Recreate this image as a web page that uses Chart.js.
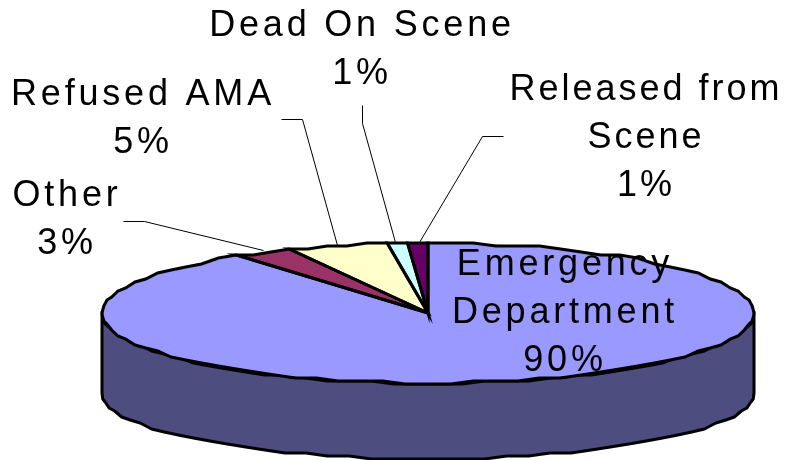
<!DOCTYPE html>
<html>
<head>
<meta charset="utf-8">
<style>html,body{margin:0;padding:0;background:#fff}#wrap{width:785px;height:460px}</style>
<script src="https://cdn.jsdelivr.net/npm/chart.js@4/dist/chart.umd.min.js"></script>
</head>
<body>
<div id="wrap"><canvas id="c" width="785" height="460"></canvas></div>
<script>
const categories = ["Emergency Department", "Other", "Refused AMA", "Dead On Scene", "Released from Scene"];
const values = [90, 3, 5, 1, 1];
const colors = ["#9999FF", "#993366", "#FFFFCC", "#CCFFFF", "#660066"];
const sideColors = ["#4D4D80", "#4D1A33", "#808066", "#668080", "#330033"];
const labelLines = [["Emergency", "Department"], ["Other"], ["Refused AMA"], ["Dead On Scene"], ["Released from", "Scene"]];

// layout (pixels), kept apart from the data
const RX = 326, RY = 70, WALL = 80, BASE_RY = 66;
const labelPos = [
  {x: 565, y: 275, sp: 3.8}, {x: 67, y: 206, sp: 3.8}, {x: 143, y: 105, sp: 3.8}, {x: 362, y: 36, sp: 3.8}, {x: 646, y: 100, sp: 3}
];
const LINE_GAP = 48;
const leaders = [
  null,
  [[123, 221], [144, 221], [263, 250]],
  [[281, 119], [302, 119], [337, 245]],
  [[362, 105], [362, 123], [395, 242]],
  [[503, 136], [482, 136], [419, 242]]
];

// rim traced as a coarse polyline, like the low-resolution outline of the original
function rim(ctx, cx, cy, ry, from, to) {
  const n = Math.max(1, Math.round(Math.abs(to - from) / (Math.PI / 45)));
  for (let k = 0; k <= n; k++) {
    const t = from + (to - from) * k / n;
    ctx.lineTo(cx + RX * Math.cos(t), Math.round((cy + ry * Math.sin(t)) / 3) * 3);
  }
}

const pie3d = {
  id: "pie3d",
  beforeDatasetsDraw(chart) {
    const ctx = chart.ctx, arcs = chart.getDatasetMeta(0).data;
    const cx = arcs[0].x, cy = arcs[0].y;
    // side wall: front-facing part of each slice
    ctx.save();
    ctx.lineWidth = 3; ctx.strokeStyle = "#000"; ctx.lineJoin = "round";
    arcs.forEach((a, i) => {
      const s = Math.max(a.startAngle, 0), e = Math.min(a.endAngle, Math.PI);
      if (e <= s) return;
      ctx.beginPath();
      rim(ctx, cx, cy, RY, s, e);
      rim(ctx, cx, cy + WALL, BASE_RY, e, s);
      ctx.closePath();
      ctx.fillStyle = sideColors[i];
      ctx.fill(); ctx.stroke();
    });
    ctx.restore();
    // squash the library's own circular arcs into the tilted ellipse
    ctx.save();
    const r = arcs[0].outerRadius;
    ctx.translate(cx, cy);
    ctx.scale(RX / r, RY / r);
    ctx.translate(-cx, -cy);
  },
  afterDatasetsDraw(chart) {
    const ctx = chart.ctx, arcs = chart.getDatasetMeta(0).data;
    ctx.restore();
    const cx = arcs[0].x, cy = arcs[0].y;
    ctx.save();
    ctx.lineWidth = 3; ctx.strokeStyle = "#000"; ctx.lineJoin = "miter";
    arcs.forEach(a => {
      ctx.beginPath();
      ctx.moveTo(cx, cy);
      rim(ctx, cx, cy, RY, a.startAngle, a.endAngle);
      ctx.closePath();
      ctx.stroke();
    });
    // leader lines
    ctx.save();
    ctx.translate(0.5, 0.5);
    ctx.lineWidth = 1; ctx.strokeStyle = "#000"; ctx.lineJoin = "round";
    leaders.forEach(l => {
      if (!l) return;
      ctx.beginPath();
      l.forEach((p, k) => k ? ctx.lineTo(p[0], p[1]) : ctx.moveTo(p[0], p[1]));
      ctx.stroke();
    });
    ctx.restore();
    // data labels
    ctx.fillStyle = "#000";
    ctx.font = '36px "Liberation Sans"';
    ctx.textAlign = "center";
    ctx.textBaseline = "alphabetic";
    const total = values.reduce((p, v) => p + v, 0);
    labelLines.forEach((lines, i) => {
      ctx.letterSpacing = labelPos[i].sp + "px";
      const rows = lines.concat(Math.round(values[i] / total * 100) + "%");
      rows.forEach((t, k) => ctx.fillText(t, labelPos[i].x, labelPos[i].y + k * LINE_GAP));
    });
    ctx.restore();
  }
};

new Chart(document.getElementById("c"), {
  type: "pie",
  data: {
    labels: categories,
    datasets: [{ data: values, backgroundColor: colors, borderWidth: 0, hoverOffset: 0 }]
  },
  options: {
    responsive: false,
    animation: false,
    layout: { padding: { left: 71, top: 166, right: 0, bottom: 0 } },
    plugins: { legend: { display: false }, tooltip: { enabled: false } }
  },
  plugins: [pie3d]
});
</script>
</body>
</html>
